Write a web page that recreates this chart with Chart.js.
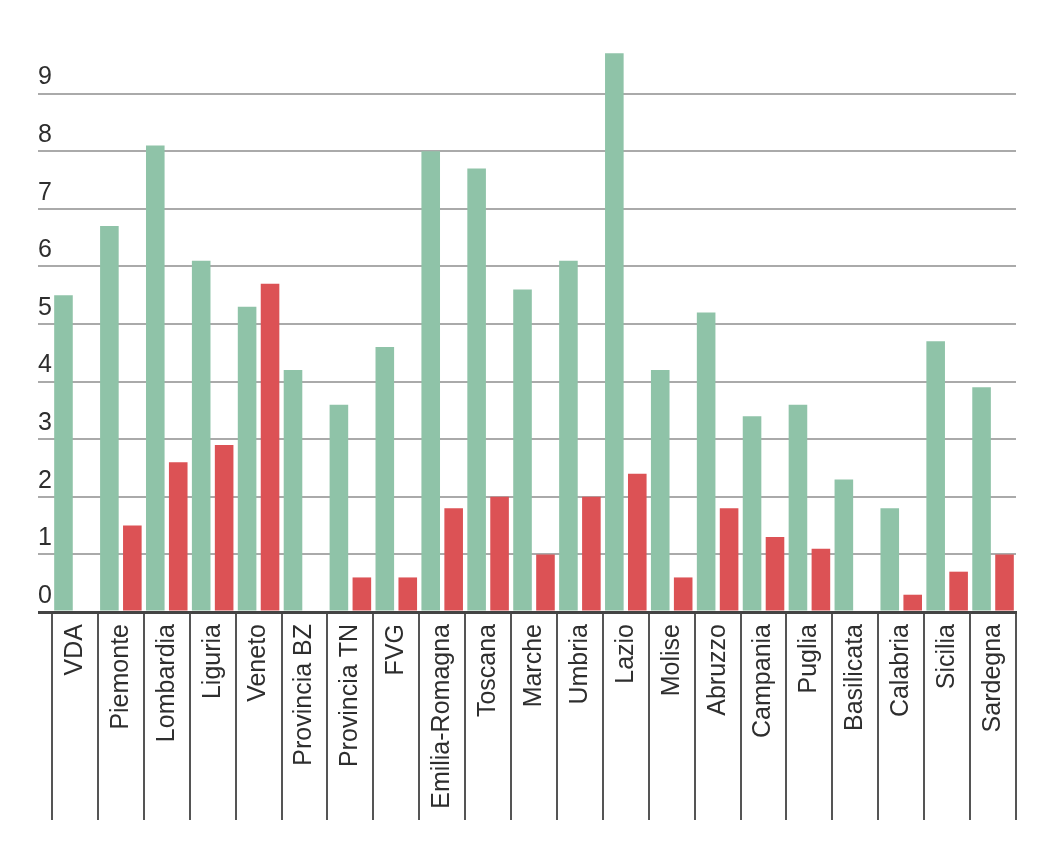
<!DOCTYPE html>
<html>
<head>
<meta charset="utf-8">
<script src="https://cdn.jsdelivr.net/npm/chart.js@4"></script>
<style>
  html, body { margin: 0; padding: 0; background: #fff; }
  #chart { display: block; }
</style>
</head>
<body>
<canvas id="chart" width="1062" height="848"></canvas>
<script>
const regions = ['VDA', 'Piemonte', 'Lombardia', 'Liguria', 'Veneto', 'Provincia BZ', 'Provincia TN', 'FVG',
  'Emilia-Romagna', 'Toscana', 'Marche', 'Umbria', 'Lazio', 'Molise', 'Abruzzo', 'Campania', 'Puglia',
  'Basilicata', 'Calabria', 'Sicilia', 'Sardegna'];
const greenValues = [5.5, 6.7, 8.1, 6.1, 5.3, 4.2, 3.6, 4.6, 8.0, 7.7, 5.6, 6.1, 9.7, 4.2, 5.2, 3.4, 3.6, 2.3, 1.8, 4.7, 3.9];
const redValues = [null, 1.5, 2.6, 2.9, 5.7, null, 0.6, 0.6, 1.8, 2.0, 1.0, 2.0, 2.4, 0.6, 1.8, 1.3, 1.1, null, 0.3, 0.7, 1.0];
const yTicks = [0, 1, 2, 3, 4, 5, 6, 7, 8, 9];

const FONT = '"Liberation Sans", Arial, sans-serif';

const ctx = document.getElementById('chart').getContext('2d');
new Chart(ctx, {
  type: 'bar',
  data: {
    labels: regions,
    datasets: [
      { data: greenValues, backgroundColor: '#8fc3a8' },
      { data: redValues, backgroundColor: '#dc5255' },
    ],
  },
  options: {
    responsive: false,
    animation: false,
    events: [],
    categoryPercentage: 1.0,
    barPercentage: 0.81,
    layout: { padding: { top: 36, right: 46, left: 0, bottom: 0 } },
    plugins: { legend: { display: false }, tooltip: { enabled: false } },
    scales: {
      x: {
        offset: true,
        grid: {
          offset: true,
          drawOnChartArea: false,
          drawTicks: true,
          tickLength: 208,
          color: '#555',
          lineWidth: 2,
        },
        border: { display: true, color: '#444', width: 3, z: 1 },
        ticks: {
          autoSkip: false,
          minRotation: 90,
          maxRotation: 90,
          padding: -196,
          color: '#2e2e2e',
          font: { family: FONT, size: 25 },
        },
        afterFit: (scale) => { scale.height = 236; },
      },
      y: {
        min: 0,
        max: 10,
        border: { display: false },
        grid: {
          tickLength: 14,
          color: (c) => (c.tick && c.tick.value === 0 ? '#444' : '#aaa'),
          lineWidth: (c) => (c.tick && c.tick.value === 0 ? 3 : 2),
        },
        ticks: {
          stepSize: 1,
          padding: -14,
          labelOffset: -16,
          color: '#2e2e2e',
          font: { family: FONT, size: 25 },
        },
        afterBuildTicks: (axis) => {
          axis.ticks = yTicks.map(v => ({ value: v }));
        },
        afterFit: (scale) => { scale.width = 52; },
      },
    },
  },
});
</script>
</body>
</html>
